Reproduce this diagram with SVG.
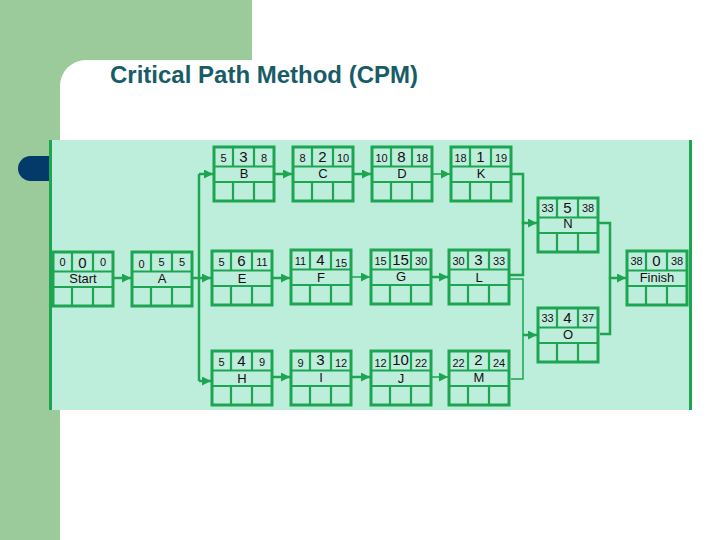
<svg xmlns="http://www.w3.org/2000/svg" xmlns:xlink="http://www.w3.org/1999/xlink" width="720" height="540" viewBox="0 0 720 540">
<style>
.side{fill:#9ccb9b}
.num{font-family:"Liberation Sans",Arial,sans-serif;font-size:11px;fill:#111111;text-anchor:middle}
.dur{font-family:"Liberation Sans",Arial,sans-serif;font-size:15px;fill:#111111;text-anchor:middle}
.name{font-family:"Liberation Sans",Arial,sans-serif;font-size:13px;fill:#111111;text-anchor:middle}
.c{fill:none;stroke:#1ea552;stroke-width:2.5}
.t{fill:none;stroke:#1ea552;stroke-width:1.5}
</style>
<defs>
<marker id="ah" markerUnits="userSpaceOnUse" markerWidth="10" markerHeight="10" refX="9" refY="4.5" orient="auto">
<path d="M0,0 L9,4.5 L0,9 z" fill="#1ea552"/>
</marker>
<g id="box">
<rect x="0" y="0" width="60" height="54" fill="none" stroke="#1ea552" stroke-width="3"/>
<path d="M0,19.5 H60 M0,35 H60 M19,0 V19.5 M40,0 V19.5 M19,35 V54 M40,35 V54" fill="none" stroke="#1ea552" stroke-width="2.2"/>
</g>
</defs>
<rect x="0" y="0" width="720" height="540" fill="#ffffff"/>
<rect class="side" x="0" y="0" width="252" height="60"/>
<rect class="side" x="0" y="0" width="60" height="540"/>
<rect class="side" x="60" y="60" width="30" height="30"/>
<path d="M60,86 A26,26 0 0 1 86,60 H720 V540 H60 Z" fill="#ffffff"/>
<rect x="18" y="156" width="44" height="25" rx="12.5" fill="#033a6a"/>
<text x="110" y="83" font-family="'Liberation Sans',Arial,sans-serif" font-size="24" font-weight="bold" fill="#185c68">Critical Path Method (CPM)</text>
<rect x="50" y="140" width="641" height="270" fill="#bdeedb"/>
<path d="M50.5,140 V410 M690.5,140 V410" stroke="#1ea552" stroke-width="3" fill="none"/>

<g id="connectors">
<path class="c" d="M114,278 H131" marker-end="url(#ah)"/>
<path class="c" d="M193,278 H211" marker-end="url(#ah)"/>
<path class="c" d="M199,174 V381"/>
<path class="c" d="M199,174 H213" marker-end="url(#ah)"/>
<path class="c" d="M199,381 H211" marker-end="url(#ah)"/>
<path class="c" d="M274,174 H292" marker-end="url(#ah)"/>
<path class="c" d="M353,174 H371" marker-end="url(#ah)"/>
<path class="t" d="M432,174 H450" marker-end="url(#ah)"/>
<path class="c" d="M512,174 H523 V223 H537" marker-end="url(#ah)"/>
<path class="c" d="M273,278 H290" marker-end="url(#ah)"/>
<path class="t" d="M352,277 H370" marker-end="url(#ah)"/>
<path class="c" d="M432,277 H448" marker-end="url(#ah)"/>
<path class="c" d="M510,275 H523 V221"/>
<path class="t" d="M510,279 H523 V379 H511"/>
<path class="c" d="M523,335 H537" marker-end="url(#ah)"/>
<path class="c" d="M273,377 H290" marker-end="url(#ah)"/>
<path class="c" d="M352,377 H370" marker-end="url(#ah)"/>
<path class="t" d="M432,377 H448" marker-end="url(#ah)"/>
<path class="c" d="M599,223 H610 V278 H626" marker-end="url(#ah)"/>
<path class="c" d="M600,334 H610 V277"/>
</g>

<g id="node-start" transform="translate(53,252)">
<use xlink:href="#box"/>
<text class="num" x="9.5" y="14">0</text><text class="dur" x="29.5" y="16">0</text><text class="num" x="50" y="14">0</text>
<text class="name" x="30" y="31">Start</text>
</g>
<g id="node-a" transform="translate(132,252)">
<use xlink:href="#box"/>
<text class="num" x="9.5" y="16">0</text><text class="num" x="29.5" y="14">5</text><text class="num" x="50" y="14">5</text>
<text class="name" x="30" y="31">A</text>
</g>
<g id="node-b" transform="translate(214,147)">
<use xlink:href="#box"/>
<text class="num" x="9.5" y="15">5</text><text class="dur" x="29.5" y="15">3</text><text class="num" x="50" y="15">8</text>
<text class="name" x="30" y="31">B</text>
</g>
<g id="node-c" transform="translate(293,147)">
<use xlink:href="#box"/>
<text class="num" x="9.5" y="15">8</text><text class="dur" x="29.5" y="15">2</text><text class="num" x="50" y="15">10</text>
<text class="name" x="30" y="31">C</text>
</g>
<g id="node-d" transform="translate(372,147)">
<use xlink:href="#box"/>
<text class="num" x="9.5" y="15">10</text><text class="dur" x="29.5" y="15">8</text><text class="num" x="50" y="15">18</text>
<text class="name" x="30" y="31">D</text>
</g>
<g id="node-k" transform="translate(451,147)">
<use xlink:href="#box"/>
<text class="num" x="9.5" y="15">18</text><text class="dur" x="29.5" y="15">1</text><text class="num" x="50" y="15">19</text>
<text class="name" x="30" y="31">K</text>
</g>
<g id="node-e" transform="translate(212,251)">
<use xlink:href="#box"/>
<text class="num" x="9.5" y="15">5</text><text class="dur" x="29.5" y="15">6</text><text class="num" x="50" y="15">11</text>
<text class="name" x="30" y="32">E</text>
</g>
<g id="node-f" transform="translate(291,250)">
<use xlink:href="#box"/>
<text class="num" x="9.5" y="15">11</text><text class="dur" x="29.5" y="15">4</text><text class="num" x="50" y="17">15</text>
<text class="name" x="30" y="32">F</text>
</g>
<g id="node-g" transform="translate(371,250)">
<use xlink:href="#box"/>
<text class="num" x="9.5" y="15">15</text><text class="dur" x="29.5" y="15">15</text><text class="num" x="50" y="15">30</text>
<text class="name" x="30" y="31">G</text>
</g>
<g id="node-l" transform="translate(449,250)">
<use xlink:href="#box"/>
<text class="num" x="9.5" y="15">30</text><text class="dur" x="29.5" y="15">3</text><text class="num" x="50" y="15">33</text>
<text class="name" x="30" y="32">L</text>
</g>
<g id="node-h" transform="translate(212,351)">
<use xlink:href="#box"/>
<text class="num" x="9.5" y="15">5</text><text class="dur" x="29.5" y="15">4</text><text class="num" x="50" y="15">9</text>
<text class="name" x="30" y="32">H</text>
</g>
<g id="node-i" transform="translate(291,351)">
<use xlink:href="#box"/>
<text class="num" x="9.5" y="16">9</text><text class="dur" x="29.5" y="14">3</text><text class="num" x="50" y="16">12</text>
<text class="name" x="30" y="31">I</text>
</g>
<g id="node-j" transform="translate(371,351)">
<use xlink:href="#box"/>
<text class="num" x="9.5" y="16">12</text><text class="dur" x="29.5" y="14">10</text><text class="num" x="50" y="16">22</text>
<text class="name" x="30" y="32">J</text>
</g>
<g id="node-m" transform="translate(449,351)">
<use xlink:href="#box"/>
<text class="num" x="9.5" y="16">22</text><text class="dur" x="29.5" y="14">2</text><text class="num" x="50" y="16">24</text>
<text class="name" x="30" y="31">M</text>
</g>
<g id="node-n" transform="translate(538,198)">
<use xlink:href="#box"/>
<text class="num" x="9.5" y="14">33</text><text class="dur" x="29.5" y="15">5</text><text class="num" x="50" y="14">38</text>
<text class="name" x="30" y="30">N</text>
</g>
<g id="node-o" transform="translate(538,308)">
<use xlink:href="#box"/>
<text class="num" x="9.5" y="14">33</text><text class="dur" x="29.5" y="15">4</text><text class="num" x="50" y="14">37</text>
<text class="name" x="30" y="31">O</text>
</g>
<g id="node-finish" transform="translate(627,251)">
<use xlink:href="#box"/>
<text class="num" x="9.5" y="14">38</text><text class="dur" x="29.5" y="15">0</text><text class="num" x="50" y="14">38</text>
<text class="name" x="30" y="31">Finish</text>
</g>
</svg>
